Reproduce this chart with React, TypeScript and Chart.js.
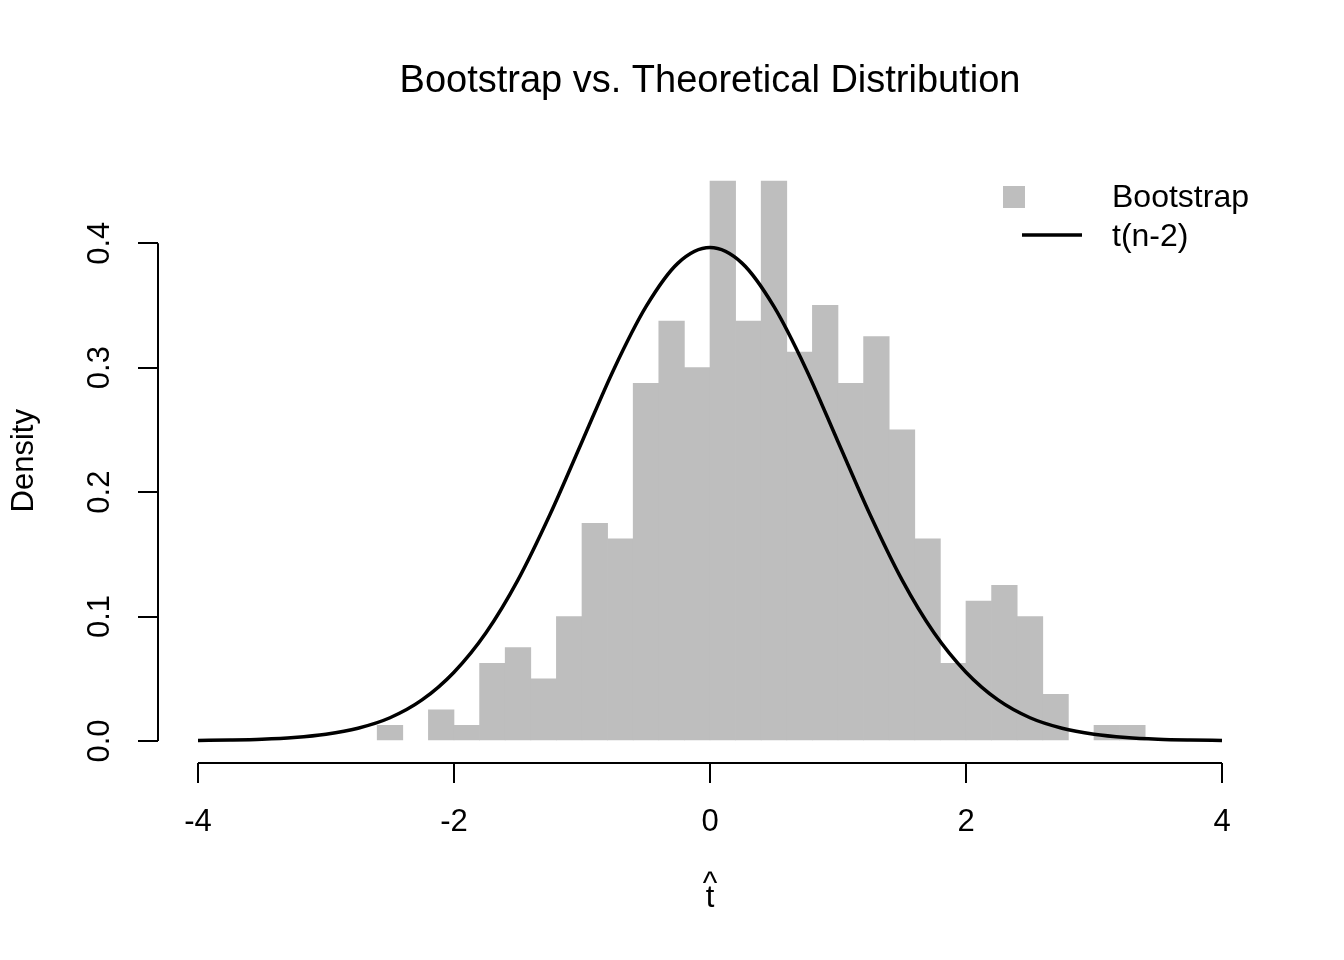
import { useEffect, useRef } from "react"
import { Chart, registerables, type ChartConfiguration, type Plugin } from "chart.js"

Chart.register(...registerables)

const FONT = "'Liberation Sans', Arial, Helvetica, sans-serif"

// histogram: bin centres (bins are 0.2 wide) and densities
const binCenters = [
  -2.5, -2.3, -2.1, -1.9, -1.7, -1.5, -1.3, -1.1, -0.9, -0.7,
  -0.5, -0.3, -0.1, 0.1, 0.3, 0.5, 0.7, 0.9, 1.1, 1.3,
  1.5, 1.7, 1.9, 2.1, 2.3, 2.5, 2.7, 2.9, 3.1, 3.3,
]
const binDensity = [
  0.0125, 0, 0.025, 0.0125, 0.0625, 0.075, 0.05, 0.1, 0.175, 0.1625,
  0.2875, 0.3375, 0.3, 0.45, 0.3375, 0.45, 0.3125, 0.35, 0.2875, 0.325,
  0.25, 0.1625, 0.0625, 0.1125, 0.125, 0.1, 0.0375, 0, 0.0125, 0.0125,
]

// theoretical t(n-2) curve
const curveX = [
  -4, -3.75, -3.5, -3.25, -3, -2.75, -2.5, -2.25, -2, -1.75, -1.5, -1.25, -1, -0.75, -0.5, -0.25,
  0, 0.25, 0.5, 0.75, 1, 1.25, 1.5, 1.75, 2, 2.25, 2.5, 2.75, 3, 3.25, 3.5, 3.75, 4,
]
const curveY = [
  0.0004, 0.0008, 0.0015, 0.0029, 0.0055, 0.0103, 0.0187, 0.033, 0.0553, 0.087, 0.1295, 0.182, 0.2405, 0.299, 0.349, 0.384,
  0.3965, 0.384, 0.349, 0.299, 0.2405, 0.182, 0.1295, 0.087, 0.0553, 0.033, 0.0187, 0.0103, 0.0055, 0.0029, 0.0015, 0.0008, 0.0004,
]

const xTicks = [-4, -2, 0, 2, 4]
const yTicks = [0, 0.1, 0.2, 0.3, 0.4]
const legendLabels = ["Bootstrap", "t(n-2)"]

const BAR_GRAY = "#BEBEBE"

// R-style axis lines (only between first and last tick) + legend
const rStylePlugin: Plugin = {
  id: "rStyle",
  afterDraw(chart) {
    const { ctx, chartArea, scales } = chart
    const xs = scales.x
    const ys = scales.y
    ctx.save()
    ctx.strokeStyle = "#000"
    ctx.lineWidth = 2
    ctx.beginPath()
    ctx.moveTo(xs.getPixelForValue(xTicks[0]), chartArea.bottom)
    ctx.lineTo(xs.getPixelForValue(xTicks[xTicks.length - 1]), chartArea.bottom)
    ctx.moveTo(chartArea.left, ys.getPixelForValue(yTicks[0]))
    ctx.lineTo(chartArea.left, ys.getPixelForValue(yTicks[yTicks.length - 1]))
    ctx.stroke()

    // legend (top right, no box)
    ctx.fillStyle = BAR_GRAY
    ctx.fillRect(1003, 186, 22, 22)
    ctx.strokeStyle = "#000"
    ctx.lineWidth = 3.5
    ctx.beginPath()
    ctx.moveTo(1022, 235)
    ctx.lineTo(1082, 235)
    ctx.stroke()
    ctx.fillStyle = "#000"
    ctx.font = `32px ${FONT}`
    ctx.textAlign = "left"
    ctx.textBaseline = "middle"
    ctx.fillText(legendLabels[0], 1112, 198)
    ctx.fillText(legendLabels[1], 1112, 237)
    ctx.restore()
  },
}

function HistogramChart() {
  const canvasRef = useRef<HTMLCanvasElement>(null)
  const chartRef = useRef<Chart | null>(null)

  useEffect(() => {
    if (!canvasRef.current) return
    if (chartRef.current) chartRef.current.destroy()

    const config: ChartConfiguration = {
      type: "bar",
      data: {
        datasets: [
          {
            type: "line",
            label: legendLabels[1],
            data: curveX.map((x, i) => ({ x, y: curveY[i] })),
            borderColor: "#000",
            borderWidth: 3.5,
            pointRadius: 0,
            fill: false,
            cubicInterpolationMode: "monotone",
            order: 0,
          },
          {
            type: "bar",
            label: legendLabels[0],
            // empty bins are left out so nothing is drawn there
            data: binCenters.map((x, i) => ({ x, y: binDensity[i] === 0 ? null : binDensity[i] })),
            backgroundColor: BAR_GRAY,
            borderWidth: 0,
            barPercentage: 1,
            categoryPercentage: 1,
            order: 1,
          },
        ] as any,
      },
      options: {
        animation: false,
        responsive: false,
        devicePixelRatio: 1,
        layout: { padding: { left: 0, right: 82, top: 0, bottom: 0 } },
        plugins: {
          legend: { display: false },
          tooltip: { enabled: false },
          title: {
            display: true,
            text: "Bootstrap vs. Theoretical Distribution",
            color: "#000",
            fullSize: false,
            font: { family: FONT, size: 38, weight: "normal" },
            padding: { top: 59, bottom: 54 },
          },
        },
        scales: {
          x: {
            type: "linear",
            offset: false,
            min: -4.3125,
            max: 4.3125,
            afterBuildTicks: (scale) => {
              scale.ticks = xTicks.map((value) => ({ value }))
            },
            afterFit: (scale) => {
              scale.height = 197
            },
            border: { display: false },
            grid: {
              offset: false,
              drawOnChartArea: false,
              drawTicks: true,
              tickLength: 20,
              color: "#000",
              lineWidth: 2,
            },
            ticks: {
              color: "#000",
              font: { family: FONT, size: 31 },
              padding: 21,
              maxRotation: 0,
              autoSkip: false,
              callback: (v) => String(v),
            },
            title: {
              display: true,
              text: ["^", "t"],
              color: "#000",
              font: { family: FONT, size: 31, lineHeight: 0.45 },
              padding: { top: 0, bottom: 55 },
            },
          },
          y: {
            type: "linear",
            min: -0.01767,
            max: 0.468,
            afterBuildTicks: (scale) => {
              scale.ticks = yTicks.map((value) => ({ value }))
            },
            afterFit: (scale) => {
              scale.width = 158
            },
            border: { display: false },
            grid: {
              drawOnChartArea: false,
              drawTicks: true,
              tickLength: 20,
              color: "#000",
              lineWidth: 2,
            },
            ticks: {
              color: "#000",
              font: { family: FONT, size: 31 },
              padding: 16,
              minRotation: 90,
              maxRotation: 90,
              crossAlign: "center",
              autoSkip: false,
              callback: (v) => Number(v).toFixed(1),
            },
            title: {
              display: true,
              text: "Density",
              color: "#000",
              font: { family: FONT, size: 31 },
              padding: { top: 6, bottom: 0 },
            },
          },
        },
      },
      plugins: [rStylePlugin],
    }

    chartRef.current = new Chart(canvasRef.current, config)

    return () => {
      if (chartRef.current) {
        chartRef.current.destroy()
        chartRef.current = null
      }
    }
  }, [])

  return (
    <div style={{ width: 1344, height: 960, background: "#fff" }}>
      <canvas ref={canvasRef} width={1344} height={960} style={{ display: "block" }} />
    </div>
  )
}

export default function App() {
  useEffect(() => {
    document.body.style.margin = "0"
  }, [])
  return <HistogramChart />
}
